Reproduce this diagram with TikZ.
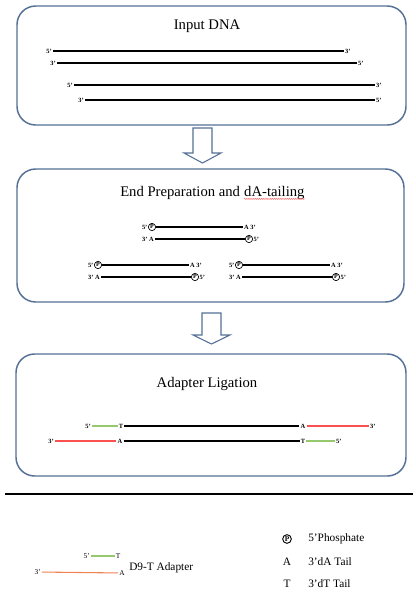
\documentclass[tikz,border=0pt]{standalone}
\usepackage{fontspec}
\setmainfont{Liberation Serif}
\usetikzlibrary{decorations.pathmorphing}
\definecolor{boxc}{RGB}{85,112,150}
\definecolor{adgreen}{RGB}{150,200,110}
\definecolor{adred}{RGB}{250,80,80}
\definecolor{adorange}{RGB}{240,130,80}
\begin{document}
\begin{tikzpicture}[x=0.75pt,y=-0.75pt,
  box/.style={draw=boxc, line width=1.1pt, rounded corners=14pt},
  blockarrow/.style={draw=boxc, line width=0.8pt, fill=white},
  ttl/.style={font=\fontsize{11}{13}\selectfont, inner sep=0pt},
  lbl/.style={font=\fontsize{4.8}{5.5}\selectfont\bfseries, inner sep=0.7pt},
  lsm/.style={font=\fontsize{5.5}{6}\selectfont, inner sep=0.7pt},
  lgd/.style={font=\fontsize{8.5}{10}\selectfont, inner sep=0pt},
  strand/.style={line width=1.4pt, black},
  grn/.style={line width=0.8pt, adgreen},
  rd/.style={line width=0.8pt, adred},
  org/.style={line width=0.8pt, adorange},
  pc/.style={circle, draw, line width=0.5pt, inner sep=0pt, minimum size=5.5pt,
             font=\fontsize{4.5}{5}\selectfont\bfseries}
]
\fill[white] (0,0) rectangle (416,601);
\useasboundingbox (0,0) rectangle (416,601);

% ---------- Box 1 ----------
\draw[box] (17,6) rectangle (406,125);
\node[ttl, anchor=base] (t1) at (207,29) {Input DNA};
\node[lbl,anchor=east] (l1a) at (53,51) {5'};
\node[lbl,anchor=west] (l1b) at (344,51) {3'};
\draw[strand] (l1a) -- (l1b);
\node[lbl,anchor=east] (l2a) at (57,63) {3'};
\node[lbl,anchor=west] (l2b) at (357,63) {5'};
\draw[strand] (l2a) -- (l2b);
\node[lbl,anchor=east] (l3a) at (74,85) {5'};
\node[lbl,anchor=west] (l3b) at (375,85) {3'};
\draw[strand] (l3a) -- (l3b);
\node[lbl,anchor=east] (l4a) at (85,100) {3'};
\node[lbl,anchor=west] (l4b) at (375,100) {5'};
\draw[strand] (l4a) -- (l4b);

% ---------- Arrow 1 ----------
\draw[blockarrow] (193,128) -- (212,128) -- (212,153) -- (221,153) -- (202.5,163)
  -- (184,153) -- (193,153) -- cycle;

% ---------- Box 2 ----------
\draw[box] (17,169) rectangle (404,302);
\node[ttl, anchor=base west] (t2a) at (120,196) {End Preparation and};
\node[ttl, anchor=base west] (t2b) at ([xshift=2.75pt]t2a.base east) {dA-tailing};
\draw[adred, line width=0.35pt, decorate, decoration={snake, amplitude=0.35pt, segment length=1.6pt}]
  ([yshift=-2.2pt]t2b.base west) -- ([yshift=-2.2pt]t2b.base east);

\newcommand{\prepgroup}[3]{%
  \node[pc] (#1tp) at (#2,#3) {P};
  \node[lbl,anchor=east,inner sep=0.3pt] (#1t5) at (#1tp.west) {5'};
  \node[lbl,anchor=west] (#1ta) at (#2+91,#3) {A 3'};
  \draw[strand] (#1tp) -- (#1ta);
  \node[lbl,anchor=east] (#1ba) at (#2+3,#3+12) {3' A};
  \node[pc] (#1bp) at (#2+97,#3+12) {P};
  \node[lbl,anchor=west,inner sep=0.3pt] (#1b5) at (#1bp.east) {5'};
  \draw[strand] (#1ba) -- (#1bp);
}
\prepgroup{ga}{152}{227}
\prepgroup{gb}{98}{265}
\prepgroup{gc}{239}{265}

% ---------- Arrow 2 ----------
\draw[blockarrow] (202,313) -- (221,313) -- (221,335) -- (230,335) -- (211.5,344)
  -- (193,335) -- (202,335) -- cycle;

% ---------- Box 3 ----------
\draw[box] (16,354) rectangle (406,476);
\node[ttl, anchor=base] (t3) at (207,387) {Adapter Ligation};
\node[lbl,anchor=east] (a5) at (92,426) {5'};
\node[lbl] (aT) at (121,426) {T};
\node[lbl] (aA) at (303,426) {A};
\node[lbl,anchor=west] (a3) at (369,426) {3'};
\draw[grn] (a5) -- (aT);
\draw[strand] (aT) -- (aA);
\draw[rd] (aA) -- (a3);
\node[lbl,anchor=east] (b3) at (55,441) {3'};
\node[lbl] (bA) at (120,441) {A};
\node[lbl] (bT) at (303,441) {T};
\node[lbl,anchor=west] (b5) at (335,441) {5'};
\draw[rd] (b3) -- (bA);
\draw[strand] (bA) -- (bT);
\draw[grn] (bT) -- (b5);

% ---------- separator ----------
\draw[line width=1.6pt] (5,494) -- (413,494);

% ---------- Legend ----------
\node[lsm,anchor=east] (k5) at (91,556) {5'};
\node[lsm] (kT) at (118,556) {T};
\draw[grn] (k5) -- (kT);
\node[lsm,anchor=east] (k3) at (42,572) {3'};
\node[lsm] (kA) at (122,573) {A};
\draw[org] (k3) -- (kA);
\node[lgd,anchor=west] (kad) at (129,568) {D9-T Adapter};

\node[pc, minimum size=6.5pt, line width=0.7pt, font=\fontsize{5.5}{6}\selectfont\bfseries] (kp) at (287,539) {P};
\node[lgd,anchor=west] (kpt) at (308,539) {5'Phosphate};
\node[lgd] (ka) at (287,562) {A};
\node[lgd,anchor=west] (kat) at (308,562) {3'dA Tail};
\node[lgd] (kt) at (287,584) {T};
\node[lgd,anchor=west] (ktt) at (308,584) {3'dT Tail};
\end{tikzpicture}
\end{document}
